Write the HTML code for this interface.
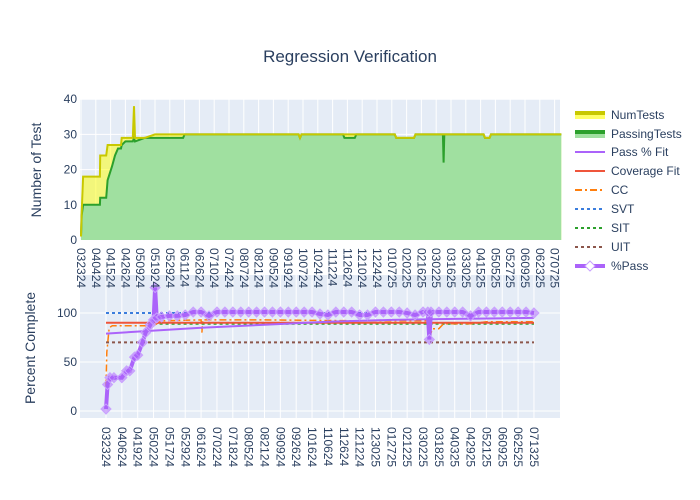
<!DOCTYPE html>
<html><head><meta charset="utf-8">
<style>
body{margin:0;background:#fff;}
svg{display:block;font-family:"Liberation Sans",sans-serif;}
</style></head>
<body>
<svg id="chart" width="700" height="500" viewBox="0 0 700 500">
<text x="350" y="62" text-anchor="middle" font-size="17" fill="#2a3f5f">Regression Verification</text>
<rect x="80" y="99" width="480" height="141" fill="#e5ecf6"/>
<rect x="80" y="275" width="480" height="143" fill="#e5ecf6"/>
<g id="topGrid"></g><g id="botGrid"></g>
<g id="topSeries"></g><g id="botSeries"></g>
<g id="axes"></g>
<text transform="translate(41,170) rotate(-90)" text-anchor="middle" font-size="14" fill="#2a3f5f">Number of Test</text>
<text transform="translate(35,348) rotate(-90)" text-anchor="middle" font-size="14" fill="#2a3f5f">Percent Complete</text>
<g id="legend"></g>
</svg>
<script>
const NS="http://www.w3.org/2000/svg";
const topCats=["032324","040424","041524","042624","050924","051924","052924","061124","062624","071024","072424","080724","082124","090524","091924","100724","102424","111224","112624","121024","122424","010725","020225","021625","030225","031625","033025","041525","050525","052725","060925","062325","070725"];
const botCats=["032324","040624","041924","050224","051724","052924","061624","070224","071824","080524","082124","090924","092624","101624","110624","112624","121224","123025","012725","021225","030225","031825","040325","042925","052125","060925","062525","071325"];
const topYTicks=[0,10,20,30,40];
const botYTicks=[0,50,100];
// top series (x in category-index units)
const topX=[0,0.05,0.14,1.28,1.3,1.7,1.8,2.1,2.3,2.5,2.7,2.75,3.0,3.5,3.58,3.65,4.3,5.0,6.0,6.1,6.9,7.0,14.7,14.8,14.9,17.7,17.8,18.5,18.6,21.2,21.3,22.5,22.6,24.45,24.5,24.55,27.2,27.3,27.6,27.7,32.45];
const numTests=[1,8,18,18,24,24,27,27,27,27,27,29,29,29,38,29,29,30,30,30,30,30,30,29,30,30,30,30,30,30,29,29,30,30,30,30,30,29,29,30,30];
const passTests=[1,7,10,10,12,12,17,21,24,26,26,27,28,28,29,28,29,29,29,29,29,30,30,29,30,30,29,29,30,30,29,29,30,30,22,30,30,29,29,30,30];
// bottom series
const pctX=[0,0.1,0.25,0.5,1,1.3,1.5,1.8,2,2.3,2.5,2.8,3,3.1,3.2,3.5,4,4.5,5,5.5,6,6.5,7,7.5,8,8.5,9,9.5,10,10.5,11,11.5,12,12.5,13,13.5,14,14.5,15,15.5,16,16.5,17,17.5,18,18.5,19,19.5,20,20.3,20.4,20.5,21,21.5,22,22.5,23,23.5,24,24.5,25,25.5,26,26.5,27];
const pctPass=[2,27,34,34,34,41,41,55,57,70,80,88,93,126,95,96,97,97,98,101,101,97,101,101,101,101,101,101,101,101,101,101,101,101,101,99,98,101,101,101,98,98,101,101,101,101,100,98,101,101,73,101,101,101,101,101,97,101,101,101,101,101,101,101,100];
const passFitX=[0,3,6,10,14,18,22,27];
const passFit=[79,82,85,88,91,93,94,95];
const covX=[0,27];const covFit=[90,90];
const ccX=[0,0.05,0.2,0.4,3,3.5,6,6.05,6.1,10,16,20.3,20.4,20.6,21,21.3,23,24,27];
const ccVal=[25,60,85,87,87,92,93,80,93,93,92,92,75,84,84,89,89,91,91];
const svtX=[0,19];const svtVal=[100,100];
const sitX=[3,27];const sitVal=[89,89];
const uitX=[0,27];const uitVal=[70,70];

const tx=i=>81+i*14.8, ty=v=>240-v*3.52;
const bx=i=>106+i*15.85, by=v=>411-v*0.98;
function mk(tag,attrs,parent){const e=document.createElementNS(NS,tag);for(const k in attrs)e.setAttribute(k,attrs[k]);parent.appendChild(e);return e;}
const g=id=>document.getElementById(id);
// grids and ticks
topCats.forEach((c,i)=>{
  const l=mk('line',{x1:tx(i),x2:tx(i),y1:99,y2:240,stroke:'#fff','stroke-width':1},g('topGrid'));
  
  const t=mk('text',{transform:`translate(${tx(i)-4},248) rotate(90)`,'font-size':12,fill:'#2a3f5f'},g('axes'));
  t.textContent=c;
  
});
topYTicks.forEach(v=>{
  const l=mk('line',{x1:80,x2:560,y1:ty(v),y2:ty(v),stroke:'#fff','stroke-width':1},g('topGrid'));
  
  const t=mk('text',{x:77,y:ty(v)+4,'text-anchor':'end','font-size':12,fill:'#2a3f5f'},g('axes'));
  t.textContent=v;
  
});
botCats.forEach((c,i)=>{
  const l=mk('line',{x1:bx(i),x2:bx(i),y1:275,y2:418,stroke:'#fff','stroke-width':1},g('botGrid'));
  
  const t=mk('text',{transform:`translate(${bx(i)-4},427) rotate(90)`,'font-size':12,fill:'#2a3f5f'},g('axes'));
  t.textContent=c;
  
});
botYTicks.forEach(v=>{
  const l=mk('line',{x1:80,x2:560,y1:by(v),y2:by(v),stroke:'#fff','stroke-width':1},g('botGrid'));
  
  const t=mk('text',{x:77,y:by(v)+4,'text-anchor':'end','font-size':12,fill:'#2a3f5f'},g('axes'));
  t.textContent=v;
  
});
function stepPts(xs,vs,fx,fy){return xs.map((x,i)=>fx(x).toFixed(1)+','+fy(vs[i]).toFixed(1)).join(' ');}
// top areas
const nPts=stepPts(topX,numTests,tx,ty), pPts=stepPts(topX,passTests,tx,ty);
const base=`${tx(topX[topX.length-1])},240 ${tx(0)},240`;
let e=mk('polygon',{points:nPts+' '+base,fill:'rgba(255,255,0,0.5)'},g('topSeries'));

e=mk('polygon',{points:pPts+' '+base,fill:'#a0e0a0'},g('topSeries'));

e=mk('polyline',{points:pPts,fill:'none',stroke:'#2ca02c','stroke-width':2},g('topSeries'));

e=mk('polyline',{points:nPts,fill:'none',stroke:'#c8c800','stroke-width':2},g('topSeries'));

// bottom lines
function line(xs,vs,st,w,dash,name){const l=mk('polyline',{points:stepPts(xs,vs,bx,by),fill:'none',stroke:st,'stroke-width':w},g('botSeries'));if(dash)l.setAttribute('stroke-dasharray',dash);}
line(uitX,uitVal,'#8c564b',2,'3,3','uit-line');
line(sitX,sitVal,'#2ca02c',2,'3,3','sit-line');
line(svtX,svtVal,'#3b7ddd',2,'3,3','svt-line');
line(ccX,ccVal,'#ff7f0e',1.5,'7,3,2,3','cc-line');
line(covX,covFit,'#ef553b',2,null,'coverage-fit-line');
line(passFitX,passFit,'#ab63fa',2,null,'pass-fit-line');
line(pctX,pctPass,'#ab63fa',4,null,'pct-pass-line');
pctX.forEach((x,i)=>{const X=bx(x),Y=by(pctPass[i]);
  const d=mk('polygon',{points:`${X},${Y-5} ${X+5},${Y} ${X},${Y+5} ${X-5},${Y}`,fill:'rgba(171,99,250,0.5)',stroke:'#c9a0ff','stroke-width':1},g('botSeries'));
  });
// legend
const leg=[["NumTests","#c8c800",4,null,"rgba(255,255,0,0.6)"],["PassingTests","#2ca02c",4,null,"#a0e0a0"],["Pass % Fit","#ab63fa",2,null],["Coverage Fit","#ef553b",2,null],["CC","#ff7f0e",2,"7,3,2,3"],["SVT","#3b7ddd",2,"3,3"],["SIT","#2ca02c",2,"3,3"],["UIT","#8c564b",2,"3,3"],["%Pass","#ab63fa",4,null]];
const legY=[115,134,152,171,190,209,228,247,266];
leg.forEach((L,i)=>{const y=legY[i];
  const it=mk('g',{},g('legend'));
  
  if(L[4]){mk('rect',{x:575,y:y-4,width:30,height:8,fill:L[4]},it);}
  const l=mk('line',{x1:575,x2:605,y1:L[4]?y-2:y,y2:L[4]?y-2:y,stroke:L[1],'stroke-width':L[2]},it);
  if(L[3])l.setAttribute('stroke-dasharray',L[3]);
  if(L[0]=="%Pass")mk('polygon',{points:`590,${y-5} 595,${y} 590,${y+5} 585,${y}`,fill:'#fff',stroke:'#c9a0ff'},it);
  const t=mk('text',{x:611,y:y+4,'font-size':12,fill:'#2a3f5f'},it);t.textContent=L[0];
});
</script>
</body></html>
